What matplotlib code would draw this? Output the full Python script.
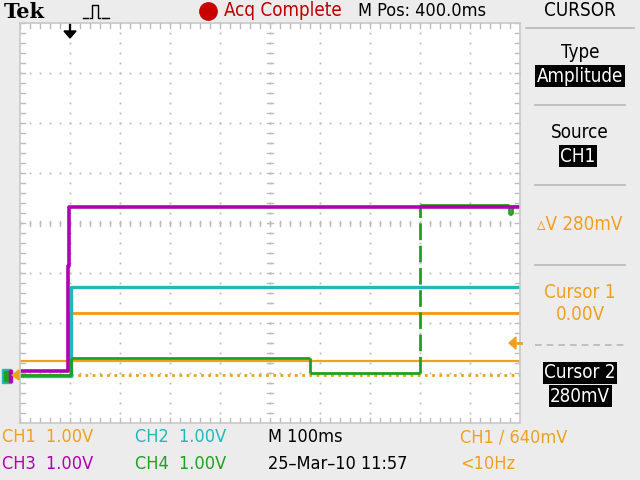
import matplotlib
matplotlib.use("Agg")
import matplotlib.pyplot as plt
from matplotlib import font_manager as fm
from matplotlib.lines import Line2D
from matplotlib.patches import Polygon, Rectangle
import numpy as np

# ---------------- data (time in ms, level in divisions / volts at 1 V/div) -------------
ch3_t = [0, 96, 96, 98, 98, 1000]
ch3_v = [-2.96, -2.96, -0.86, -0.86, 0.32, 0.32]
ch2_t = [0, 102, 102, 1000]
ch2_v = [-3.06, -3.06, -1.28, -1.28]
ch1_t = [0, 100, 100, 1000]
ch1_v = [-3.04, -3.04, -1.80, -1.80]
ch4_t = [0, 102, 102, 580, 580, 800, 800, 978, 978, 984, 984, 1000]
ch4_v = [-3.04, -3.04, -2.70, -2.70, -3.00, -3.00, 0.36, 0.36, 0.18, 0.18, 0.34, 0.34]
cursor1_v = -3.04   # 0.00 V on CH1
cursor2_v = -2.76   # 280 mV on CH1

colors = {"CH1": "#f0a020", "CH2": "#20b8b8", "CH3": "#b000b0", "CH4": "#20a020"}

names = {f.name for f in fm.fontManager.ttflist}
if "Liberation Sans Narrow" in names:
    narrow, stretch = "Liberation Sans Narrow", "normal"
else:
    narrow, stretch = "DejaVu Sans", "condensed"

W, H = 640, 480
fig = plt.figure(figsize=(6.4, 4.8), dpi=100)
fig.patch.set_facecolor("#ececec")

def fx(x):
    return x / W
def fy(y):
    return 1 - y / H

def txt(x, y, s, color="black", size=13, ha="left", weight="normal", family=None, box=None, st=None):
    kw = dict(color=color, fontsize=size, ha=ha, va="center", weight=weight,
              family=family or narrow, stretch=st or stretch)
    if box:
        kw["bbox"] = dict(boxstyle="square,pad=0.08", fc=box, ec="none")
    fig.text(fx(x), fy(y), s, **kw)

# ---------------- graticule ----------------
L, T, R, B = 20, 23, 520, 423
ax = fig.add_axes([fx(L), fy(B), (R - L) / W, (B - T) / H])
ax.set_facecolor("white")
ax.set_xlim(0, 1000)
ax.set_ylim(-4, 4)
for s in ax.spines.values():
    s.set_color("#c8c8c8")
    s.set_linewidth(1.2)
ax.set_xticks([])
ax.set_yticks([])

gc = "#bcbcbc"
for xv in range(100, 1000, 100):
    yy = np.arange(-4, 4.01, 0.2)
    ax.plot([xv] * len(yy), yy, ls="none", marker="s", ms=1.3, color=gc, mec="none")
for yv in range(-3, 4):
    xx = np.arange(0, 1000.1, 20)
    ax.plot(xx, [yv] * len(xx), ls="none", marker="s", ms=1.3, color=gc, mec="none")
# center line ticks
for xx in np.arange(0, 1000.1, 20):
    ax.plot([xx, xx], [-0.05, 0.05], color=gc, lw=1.0)
for yy in np.arange(-4, 4.01, 0.2):
    ax.plot([494, 506], [yy, yy], color=gc, lw=1.0)
# edge ticks
for xx in np.arange(0, 1000.1, 20):
    ax.plot([xx, xx], [4, 3.9], color=gc, lw=1.0)
    ax.plot([xx, xx], [-4, -3.9], color=gc, lw=1.0)
for yy in np.arange(-4, 4.01, 0.2):
    ax.plot([0, 10], [yy, yy], color=gc, lw=1.0)
    ax.plot([1000, 990], [yy, yy], color=gc, lw=1.0)

# cursors
ax.axhline(cursor2_v, color=colors["CH1"], lw=1.6)
ax.axhline(cursor1_v, color=colors["CH1"], lw=2.0, ls=(0, (1.0, 1.6)))

# traces
ax.plot(ch1_t, ch1_v, color=colors["CH1"], lw=2.2)
ax.plot(ch2_t, ch2_v, color=colors["CH2"], lw=2.4)
for i in range(len(ch4_t) - 1):
    seg_t = ch4_t[i:i + 2]
    seg_v = ch4_v[i:i + 2]
    rise = seg_t[0] == seg_t[1] and abs(seg_v[1] - seg_v[0]) > 1
    ax.plot(seg_t, seg_v, color=colors["CH4"], lw=2.0,
            ls=(0, (6, 2)) if rise else "-", solid_capstyle="butt")
ax.plot(ch3_t, ch3_v, color=colors["CH3"], lw=2.6)

# trigger position marker (black down arrow)
fig.add_artist(Line2D([fx(70), fx(70)], [fy(25), fy(35)], color="black", lw=1.6))
fig.add_artist(Polygon([[fx(64), fy(31)], [fx(76), fy(31)], [fx(70), fy(38)]], closed=True,
                       color="black", transform=fig.transFigure))
# trigger level marker (orange left arrow)
fig.add_artist(Polygon([[fx(509), fy(343)], [fx(516), fy(337)], [fx(516), fy(349)]], closed=True,
                       color=colors["CH1"], transform=fig.transFigure))
fig.add_artist(Line2D([fx(514), fx(521)], [fy(343), fy(343)], color=colors["CH1"], lw=2))

# ground markers at left
fig.add_artist(Rectangle((fx(2), fy(383)), 9 / W, 14 / H, color=colors["CH2"], transform=fig.transFigure))
fig.add_artist(Rectangle((fx(4), fy(381)), 5 / W, 10 / H, color=colors["CH4"], transform=fig.transFigure))
fig.add_artist(Rectangle((fx(9), fy(382)), 3 / W, 12 / H, color=colors["CH3"], transform=fig.transFigure))
fig.add_artist(Polygon([[fx(12), fy(375)], [fx(19), fy(370)], [fx(19), fy(380)]], closed=True,
                       color=colors["CH1"], transform=fig.transFigure))

# ---------------- top bar ----------------
txt(4, 12, "Tek", size=15, weight="bold", family="DejaVu Serif", st="normal")
fig.add_artist(Line2D([fx(v) for v in [90, 92, 92, 98, 98, 100]], [fy(v) for v in [18, 18, 5, 5, 18, 18]],
                      color="black", lw=1))
for xx in [83, 85, 87, 102, 104, 106, 108]:
    fig.add_artist(Line2D([fx(xx), fx(xx + 1)], [fy(18), fy(18)], color="black", lw=1))
fig.add_artist(Line2D([fx(208)], [fy(11)], marker="o", ms=12.5, color="#c80000", ls="none"))
txt(224, 11, "Acq Complete", color="#c00000", size=13.5)
txt(358, 11, "M Pos: 400.0ms", size=13)
txt(580, 11, "CURSOR", size=13.5, ha="center")
fig.add_artist(Line2D([fx(526), fx(634)], [fy(28), fy(28)], color="#b8b8b8", lw=1.2))

# ---------------- right panel ----------------
txt(580, 52, "Type", size=13.5, ha="center")
txt(580, 76, "Amplitude", size=13.5, ha="center", color="white", box="black")
fig.add_artist(Line2D([fx(535), fx(625)], [fy(105), fy(105)], color="#b8b8b8", lw=1.2))
txt(580, 132, "Source", size=13.5, ha="center")
txt(578, 156, "CH1", size=13.5, ha="center", color="white", box="black")
fig.add_artist(Line2D([fx(535), fx(625)], [fy(185), fy(185)], color="#b8b8b8", lw=1.2))
txt(580, 224, "\u25b5V 280mV", size=13.5, ha="center", color=colors["CH1"])
fig.add_artist(Line2D([fx(535), fx(625)], [fy(265), fy(265)], color="#b8b8b8", lw=1.2))
txt(580, 292, "Cursor 1", size=13.5, ha="center", color=colors["CH1"])
txt(580, 315, "0.00V", size=13.5, ha="center", color=colors["CH1"])
fig.add_artist(Line2D([fx(535), fx(625)], [fy(345), fy(345)], color="#b8b8b8", lw=1.2,
                      ls=(0, (4, 3))))
txt(580, 373, "Cursor 2", size=13.5, ha="center", color="white", box="black")
txt(580, 396, "280mV", size=13.5, ha="center", color="white", box="black")

# ---------------- bottom readouts ----------------
txt(2, 437, "CH1  1.00V", color=colors["CH1"])
txt(135, 437, "CH2  1.00V", color=colors["CH2"])
txt(268, 437, "M 100ms")
txt(460, 437, "CH1 \u2215 640mV", color=colors["CH1"])
txt(2, 464, "CH3  1.00V", color=colors["CH3"])
txt(135, 464, "CH4  1.00V", color=colors["CH4"])
txt(268, 464, "25\u2013Mar\u201310 11:57")
txt(460, 464, "<10Hz", color=colors["CH1"])

fig.savefig("out.png", dpi=100, facecolor=fig.get_facecolor())
